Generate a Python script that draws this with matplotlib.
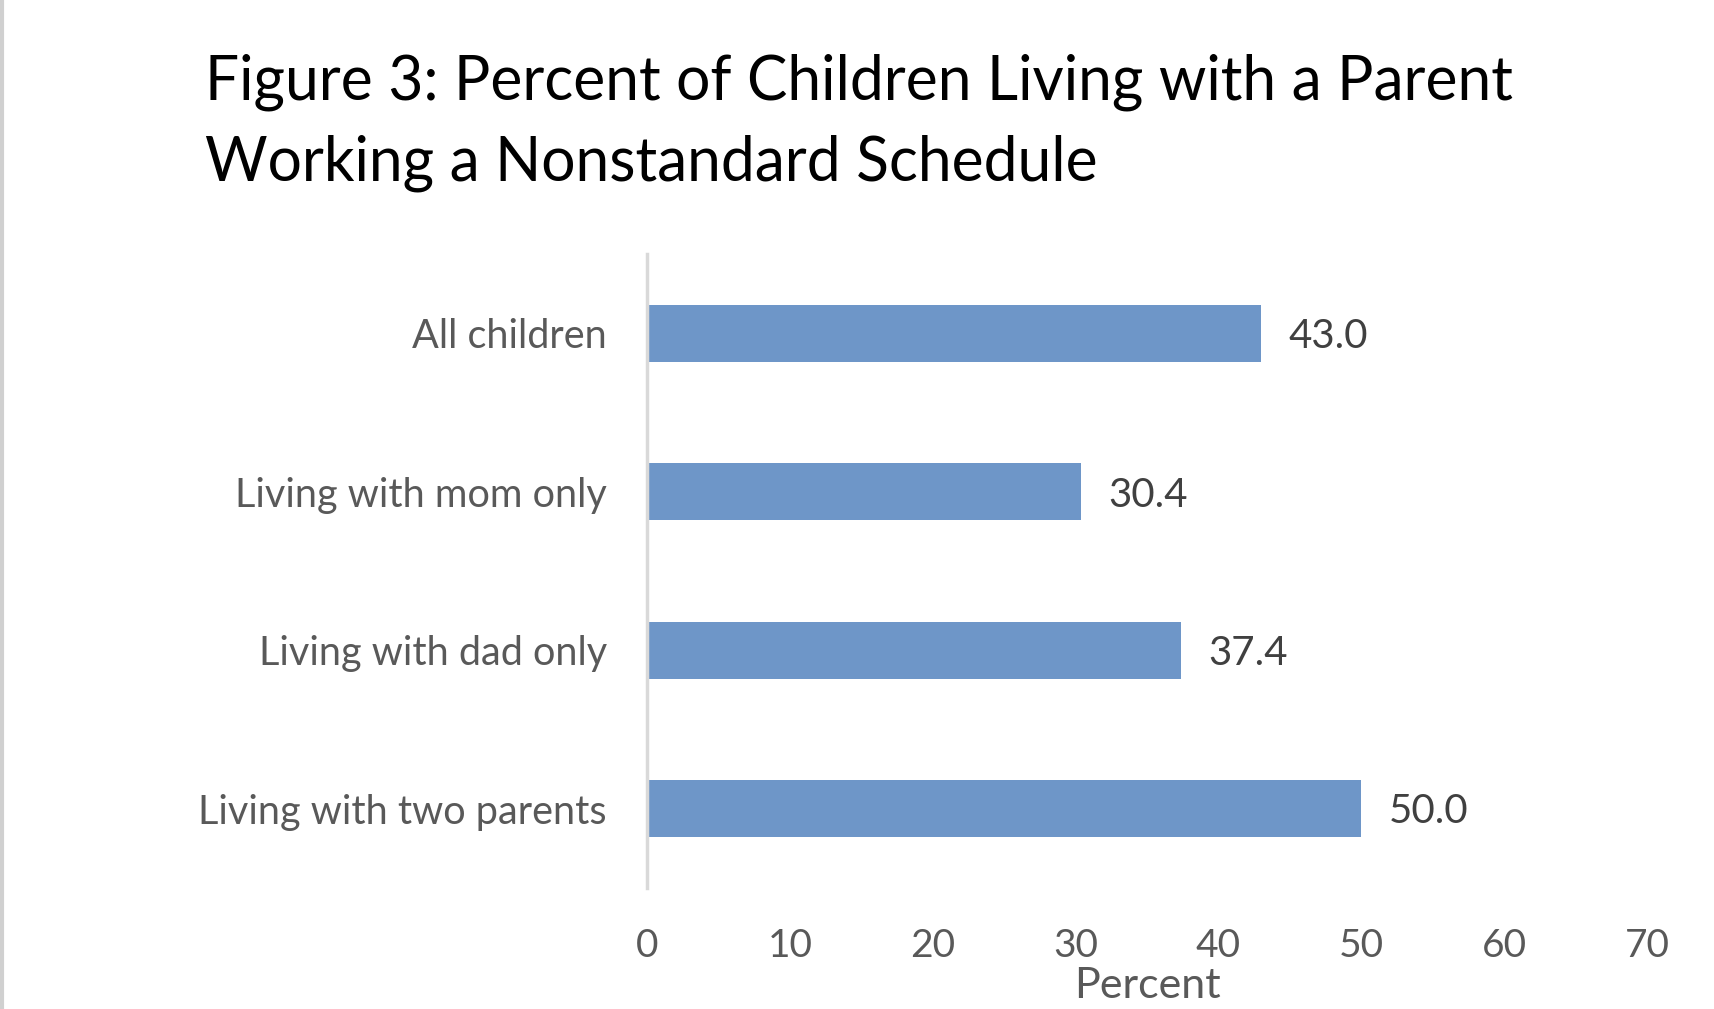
import matplotlib
matplotlib.use("Agg")
import matplotlib.pyplot as plt
from matplotlib.lines import Line2D

plt.rcParams['font.family'] = ['Lato', 'DejaVu Sans']

categories = ['All children', 'Living with mom only', 'Living with dad only', 'Living with two parents']
percent = [43.0, 30.4, 37.4, 50.0]
x_ticks = [0, 10, 20, 30, 40, 50, 60, 70]
title = 'Figure 3: Percent of Children Living with a Parent\nWorking a Nonstandard Schedule'

fig = plt.figure(figsize=(17.14, 10.09), dpi=100)
ax = fig.add_axes([0.3775, 0.120, 0.5835, 0.628])

y = list(range(len(categories)))[::-1]
ax.barh(y, percent, height=0.36, color='#6E96C8')
for yi, v in zip(y, percent):
    ax.text(v + 1.9, yi - 0.02, f'{v:.1f}', va='center', ha='left', fontsize=29, color='#404040')

ax.set_xlim(0, 70)
ax.set_ylim(-0.5, len(categories) - 0.5)
ax.set_yticks(y)
ax.set_yticklabels(categories, fontsize=28.5, color='#595959')
ax.set_xticks(x_ticks)
ax.set_xticklabels([str(t) for t in x_ticks], fontsize=28, color='#595959')
ax.tick_params(axis='both', length=0)
ax.tick_params(axis='y', pad=29)
ax.tick_params(axis='x', pad=29)
ax.set_xlabel('Percent', fontsize=31, color='#595959', labelpad=2)

for s in ['top', 'right', 'bottom']:
    ax.spines[s].set_visible(False)
ax.spines['left'].set_color('#D9D9D9')
ax.spines['left'].set_linewidth(2.5)

fig.text(0.1195, 0.947, title, fontsize=43.6, color='black', va='top', ha='left', linespacing=1.52)

# gray page edge on the left
fig.add_artist(Line2D([0.001, 0.001], [0, 1], color='#D0D0D0', linewidth=3, transform=fig.transFigure))

fig.savefig('out.png', dpi=100)
